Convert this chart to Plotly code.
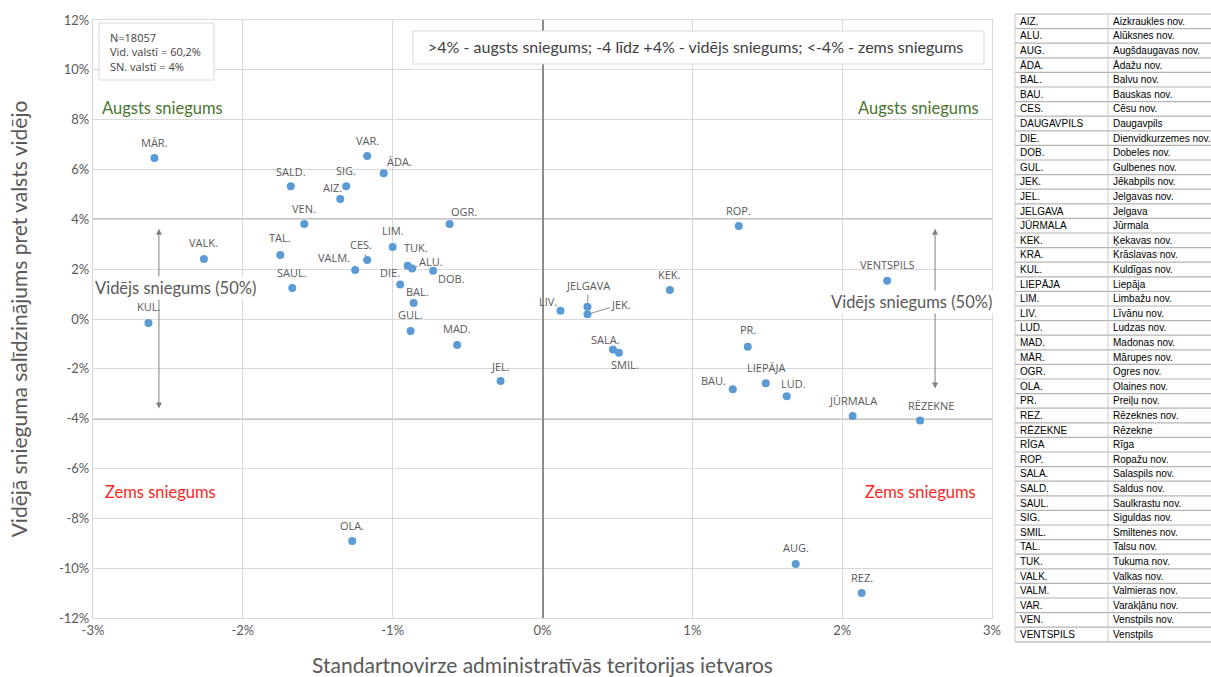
import plotly.graph_objects as go

# ---------------- data ----------------
names = ["MĀR.", "VALK.", "KUL.", "TAL.", "SALD.", "SAUL.", "VEN.", "AIZ.", "SIG.", "VAR.",
         "ĀDA.", "CES.", "VALM.", "LIM.", "TUK.", "ALU.", "DOB.", "DIE.", "BAL.", "GUL.",
         "OGR.", "MAD.", "JEL.", "OLA.", "LIV.", "JELGAVA", "JEK.", "KEK.", "SALA.", "SMIL.",
         "ROP.", "PR.", "BAU.", "LIEPĀJA", "LUD.", "JŪRMALA", "RĒZEKNE", "VENTSPILS", "AUG.", "REZ."]
std_dev = [-2.59, -2.26, -2.63, -1.75, -1.68, -1.67, -1.59, -1.35, -1.31, -1.17,
           -1.06, -1.17, -1.25, -1.00, -0.90, -0.87, -0.73, -0.95, -0.86, -0.88,
           -0.62, -0.57, -0.28, -1.27, 0.12, 0.30, 0.30, 0.85, 0.47, 0.51,
           1.31, 1.37, 1.27, 1.49, 1.63, 2.07, 2.52, 2.30, 1.69, 2.13]
vs_avg = [6.46, 2.41, -0.16, 2.57, 5.33, 1.24, 3.81, 4.82, 5.33, 6.54,
          5.85, 2.37, 1.97, 2.89, 2.14, 2.03, 1.94, 1.38, 0.64, -0.48,
          3.81, -1.04, -2.49, -8.91, 0.33, 0.49, 0.19, 1.16, -1.22, -1.35,
          3.73, -1.11, -2.82, -2.58, -3.10, -3.89, -4.07, 1.54, -9.83, -11.00]

x_tickvals = [-3, -2, -1, 0, 1, 2, 3]
x_ticktext = ["-3%", "-2%", "-1%", "0%", "1%", "2%", "3%"]
y_tickvals = [-12, -10, -8, -6, -4, -2, 0, 2, 4, 6, 8, 10, 12]
y_ticktext = ["-12%", "-10%", "-8%", "-6%", "-4%", "-2%", "0%", "2%", "4%", "6%", "8%", "10%", "12%"]

abbr = ["AIZ.", "ALU.", "AUG.", "ĀDA.", "BAL.", "BAU.", "CES.", "DAUGAVPILS", "DIE.", "DOB.",
        "GUL.", "JEK.", "JEL.", "JELGAVA", "JŪRMALA", "KEK.", "KRA.", "KUL.", "LIEPĀJA", "LIM.",
        "LIV.", "LUD.", "MAD.", "MĀR.", "OGR.", "OLA.", "PR.", "REZ.", "RĒZEKNE", "RĪGA",
        "ROP.", "SALA.", "SALD.", "SAUL.", "SIG.", "SMIL.", "TAL.", "TUK.", "VALK.", "VALM.",
        "VAR.", "VEN.", "VENTSPILS"]
full_names = ["Aizkraukles nov.", "Alūksnes nov.", "Augšdaugavas nov.", "Ādažu nov.", "Balvu nov.",
              "Bauskas nov.", "Cēsu nov.", "Daugavpils", "Dienvidkurzemes nov.", "Dobeles nov.",
              "Gulbenes nov.", "Jēkabpils nov.", "Jelgavas nov.", "Jelgava", "Jūrmala",
              "Ķekavas nov.", "Krāslavas nov.", "Kuldīgas nov.", "Liepāja", "Limbažu nov.",
              "Līvānu nov.", "Ludzas nov.", "Madonas nov.", "Mārupes nov.", "Ogres nov.",
              "Olaines nov.", "Preiļu nov.", "Rēzeknes nov.", "Rēzekne", "Rīga",
              "Ropažu nov.", "Salaspils nov.", "Saldus nov.", "Saulkrastu nov.", "Siguldas nov.",
              "Smiltenes nov.", "Talsu nov.", "Tukuma nov.", "Valkas nov.", "Valmieras nov.",
              "Varakļānu nov.", "Venstpils nov.", "Venstpils"]

# ---------------- styling / label placement (pixels) ----------------
W, H = 1211, 677
label_shift = {  # (xshift, yshift) ; positive yshift = up
    "MĀR.": (0, 16), "VALK.": (0, 16), "KUL.": (0, 16), "TAL.": (0, 17), "SALD.": (0, 15),
    "SAUL.": (0, 16), "VEN.": (0, 16), "AIZ.": (-8, 11), "SIG.": (0, 16), "VAR.": (0, 16),
    "ĀDA.": (16, 12), "VALM.": (-21, 12), "LIM.": (0, 16), "TUK.": (8, 18), "DOB.": (18, -8),
    "DIE.": (-10, 12), "BAL.": (4, 12), "GUL.": (0, 16), "OGR.": (14, 13), "MAD.": (0, 16),
    "JEL.": (0, 15), "OLA.": (0, 16), "LIV.": (-12, 9), "KEK.": (0, 16), "SALA.": (-7, 10),
    "SMIL.": (6, -12), "ROP.": (0, 16), "PR.": (0, 17), "BAU.": (-19, 9), "LIEPĀJA": (0, 16),
    "LUD.": (7, 13), "JŪRMALA": (0, 15), "RĒZEKNE": (11, 15), "VENTSPILS": (0, 16),
    "AUG.": (0, 16), "REZ.": (0, 16),
}
leader = {  # labels with leader lines: (ax, ay) in px, ay positive = down
    "CES.": (-6, -15), "ALU.": (19, -7), "JELGAVA": (1, -21), "JEK.": (34, -10),
}

GRAY_TXT = "#595959"
LABEL_FONT = dict(family="Open Sans", size=11, color=GRAY_TXT)


def px(x):
    return x / W


def py(y):
    return 1 - y / H


fig = go.Figure()

fig.add_trace(go.Scatter(
    x=std_dev, y=vs_avg, mode="markers", text=names,
    marker=dict(color="#5b9bd5", size=8),
    hoverinfo="text", showlegend=False,
))

annotations = []
for n, xv, yv in zip(names, std_dev, vs_avg):
    if n in leader:
        ax, ay = leader[n]
        annotations.append(dict(x=xv, y=yv, xref="x", yref="y", text=n, showarrow=True,
                                arrowhead=0, arrowwidth=1, arrowcolor="#8c8c8c",
                                ax=ax, ay=ay, standoff=4, font=LABEL_FONT))
    else:
        dx, dy = label_shift.get(n, (0, 16))
        annotations.append(dict(x=xv, y=yv, xref="x", yref="y", text=n, showarrow=False,
                                xshift=dx, yshift=dy, font=LABEL_FONT))

GREEN = "#4a7530"
RED = "#ff1f1f"
zone_font = dict(family="Lato", size=16.5)


def paper_text(xp, yp, text, font, **kw):
    d = dict(x=px(xp), y=py(yp), xref="paper", yref="paper", text=text, showarrow=False,
             xanchor="center", yanchor="middle", font=font)
    d.update(kw)
    return d


annotations += [
    paper_text(162, 108, "Augsts sniegums", dict(zone_font, color=GREEN)),
    paper_text(918, 108, "Augsts sniegums", dict(zone_font, color=GREEN)),
    paper_text(160, 492, "Zems sniegums", dict(zone_font, color=RED)),
    paper_text(920, 492, "Zems sniegums", dict(zone_font, color=RED)),
]

# double-headed vertical arrows
for xa, ytop, ybot in [(-2.56, 3.62, -3.65), (2.62, 3.62, -2.85)]:
    annotations.append(dict(x=xa, y=ytop, ax=xa, ay=ybot, xref="x", yref="y",
                            axref="x", ayref="y", text="", showarrow=True,
                            arrowhead=2, startarrowhead=2, arrowside="end+start",
                            arrowsize=1.2, startarrowsize=1.2,
                            arrowwidth=1, arrowcolor="#7f7f7f"))

mid_font = dict(family="Lato", size=16.5, color=GRAY_TXT)
annotations += [
    paper_text(175.5, 288, "Vidējs sniegums (50%)", mid_font, bgcolor="white"),
    paper_text(911.5, 302, "Vidējs sniegums (50%)", mid_font, bgcolor="white"),
    dict(x=px(108), y=py(28), xref="paper", yref="paper", xanchor="left", yanchor="top",
         align="left", showarrow=False,
         text="N=18057<br>Vid. valstī = 60,2%<br>SN. valstī = 4%",
         font=dict(family="Open Sans", size=11, color="#404040")),
    paper_text(696, 47, ">4% - augsts sniegums; -4 līdz +4% - vidējs sniegums; <-4% - zems sniegums",
               dict(family="Lato", size=16, color="#404040")),
]

shapes = [
    # emphasized lines at +/-4 %
    dict(type="line", xref="x", yref="y", x0=-3, x1=3, y0=4, y1=4, layer="below",
         line=dict(color="#8c8c8c", width=1.5)),
    dict(type="line", xref="x", yref="y", x0=-3, x1=3, y0=-4, y1=-4, layer="below",
         line=dict(color="#8c8c8c", width=1.5)),
    # info boxes
    dict(type="rect", xref="paper", yref="paper", x0=px(99), x1=px(214), y0=py(80), y1=py(23),
         fillcolor="white", line=dict(color="#d9d9d9", width=1), layer="above"),
    dict(type="rect", xref="paper", yref="paper", x0=px(413), x1=px(984), y0=py(64), y1=py(31),
         fillcolor="white", line=dict(color="#d9d9d9", width=1), layer="above"),
]

# ---------------- abbreviation table (right side) ----------------
TBL_X0, TBL_XMID, TBL_X1 = 1015, 1108, 1211
ROW_TOP, ROW_H = 14, 14.6
TBL_FONT = dict(family="Liberation Sans", size=10, color="#000000")
n_rows = len(abbr)
for i in range(n_rows + 1):
    yb = ROW_TOP + i * ROW_H
    shapes.append(dict(type="line", xref="paper", yref="paper",
                       x0=px(TBL_X0), x1=px(TBL_X1), y0=py(yb), y1=py(yb),
                       line=dict(color="#b4b4b4", width=1.2)))
for xl in (TBL_X0, TBL_XMID):
    shapes.append(dict(type="line", xref="paper", yref="paper",
                       x0=px(xl), x1=px(xl), y0=py(ROW_TOP), y1=py(ROW_TOP + n_rows * ROW_H),
                       line=dict(color="#c8c8c8", width=1)))
for i, (a, f) in enumerate(zip(abbr, full_names)):
    yc = ROW_TOP + (i + 0.5) * ROW_H
    annotations.append(dict(x=px(TBL_X0 + 3), y=py(yc), xref="paper", yref="paper",
                            xanchor="left", yanchor="middle", showarrow=False,
                            text=a, font=TBL_FONT))
    annotations.append(dict(x=px(TBL_XMID + 3), y=py(yc), xref="paper", yref="paper",
                            xanchor="left", yanchor="middle", showarrow=False,
                            text=f, font=TBL_FONT))

tick_font = dict(family="Lato", size=13, color=GRAY_TXT)
fig.update_layout(
    width=W, height=H,
    margin=dict(l=0, r=0, t=0, b=0),
    paper_bgcolor="white", plot_bgcolor="white",
    showlegend=False,
    xaxis=dict(domain=[px(93), px(992)], range=[-3, 3], tickvals=x_tickvals, ticktext=x_ticktext,
               showgrid=True, gridcolor="#d9d9d9", gridwidth=1.3,
               zeroline=True, zerolinecolor="#8c8c8c", zerolinewidth=1.5,
               showline=True, mirror=True, linecolor="#d9d9d9", linewidth=1.3,
               ticks="", tickfont=tick_font, automargin=False,
               title=dict(text="Standartnovirze administratīvās teritorijas ietvaros",
                          font=dict(family="Lato", size=21, color=GRAY_TXT), standoff=22)),
    yaxis=dict(domain=[py(618), py(20)], range=[-12, 12], tickvals=y_tickvals, ticktext=y_ticktext,
               showgrid=True, gridcolor="#d9d9d9", gridwidth=1.3,
               zeroline=False,
               showline=True, mirror=True, linecolor="#d9d9d9", linewidth=1.3,
               ticks="", tickfont=tick_font, automargin=False,
               title=dict(text="Vidējā snieguma salīdzinājums pret valsts vidējo",
                          font=dict(family="Lato", size=21, color=GRAY_TXT), standoff=25)),
    annotations=annotations,
    shapes=shapes,
)

fig.write_html("out.html", config={"displayModeBar": False},
               post_script="document.body.style.margin='0';")
